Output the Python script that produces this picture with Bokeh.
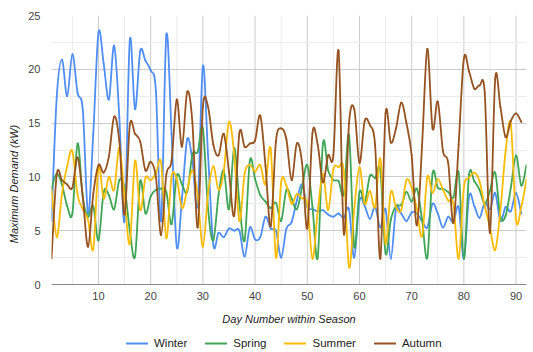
from bokeh.plotting import figure
from bokeh.models import Range1d, FixedTicker, Legend, LegendItem, ColumnDataSource
from bokeh.embed import file_html
from bokeh.resources import INLINE

# ---- data ----
winter = [5.9, 17.4, 20.9, 17.5, 21.4, 17.8, 16.2, 6.6, 14.0, 23.4,
          20.5, 17.2, 22.2, 15.5, 5.9, 22.7, 16.3, 21.7, 20.8, 19.9,
          18.0, 5.9, 23.2, 14.0, 3.5, 8.0, 13.5, 11.5, 7.4, 20.3,
          12.0, 3.7, 4.8, 4.4, 5.2, 5.0, 5.0, 2.6, 5.3, 4.2,
          4.4, 6.3, 5.2, 5.0, 2.5, 5.2, 5.8, 7.8, 9.3, 7.2,
          7.0, 6.8, 6.9, 6.5, 6.3, 6.6, 6.2, 7.0, 2.5, 7.8,
          7.3, 6.1, 7.2, 5.3, 7.0, 2.4, 7.0, 6.6, 5.9, 6.7,
          6.6, 5.9, 5.3, 7.5, 6.6, 5.3, 6.3, 5.8, 7.2, 2.4,
          8.2, 7.3, 6.2, 7.6, 7.0, 8.5, 5.9, 7.2, 6.8, 8.5, 6.6]
spring = [8.9, 10.3, 9.3, 7.3, 6.6, 13.1, 8.1, 6.3, 7.3, 4.1,
          8.6, 8.3, 7.0, 9.7, 9.0, 5.0, 2.6, 9.6, 6.6, 8.2,
          8.8, 8.9, 8.6, 5.6, 10.1, 9.3, 8.6, 12.1, 12.3, 14.5,
          7.0, 4.1, 8.3, 10.6, 7.0, 12.7, 7.6, 4.1, 11.5, 9.8,
          8.3, 7.7, 7.1, 7.6, 5.9, 8.8, 8.0, 7.0, 9.0, 11.1,
          7.2, 2.5, 13.1, 10.6, 9.7, 9.6, 8.4, 13.9, 3.5, 8.6,
          7.6, 10.1, 9.9, 10.6, 2.9, 6.0, 7.3, 7.4, 8.6, 7.7,
          8.9, 6.0, 2.5, 10.3, 9.0, 8.9, 8.6, 8.1, 10.4, 2.4,
          10.2, 9.6, 8.8, 7.5, 8.7, 10.4, 6.3, 6.4, 9.0, 12.0, 9.2, 11.1]
summer = [8.9, 4.4, 8.4, 11.0, 12.4, 8.3, 7.0, 6.0, 3.3, 10.9,
          8.0, 10.0, 8.8, 12.7, 8.1, 3.8, 11.5, 6.9, 9.9, 9.7,
          10.3, 11.3, 4.3, 10.0, 9.8, 7.1, 8.8, 10.6, 8.3, 3.5,
          8.5, 11.0, 8.8, 10.5, 15.1, 12.1, 5.9, 10.3, 11.1, 10.5,
          11.1, 9.3, 12.6, 2.5, 9.5, 9.2, 7.5, 8.4, 8.0, 7.5,
          2.4, 6.8, 10.3, 6.9, 10.7, 10.9, 10.5, 1.6, 7.0, 10.9,
          7.5, 8.7, 7.2, 11.7, 3.8, 8.6, 7.2, 6.9, 9.7, 9.0,
          7.0, 4.5, 10.0, 8.5, 9.8, 8.8, 7.8, 7.5, 2.4, 9.0,
          9.9, 10.4, 9.6, 7.3, 5.3, 3.2, 6.9, 12.4, 14.9, 6.0, 7.2, 9.8]
autumn = [2.4, 10.2, 9.7, 9.3, 9.0, 11.8, 8.1, 3.5, 8.4, 11.1,
          10.4, 11.9, 15.6, 13.3, 6.5, 14.8, 14.0, 13.3, 10.6, 11.4,
          10.0, 4.6, 10.2, 11.5, 17.2, 12.8, 17.9, 15.0, 5.3, 16.5,
          16.5, 13.0, 12.0, 14.0, 10.5, 6.4, 14.1, 12.8, 13.1, 13.4,
          15.7, 11.0, 5.4, 13.3, 14.5, 13.5, 9.7, 13.1, 11.3, 5.2,
          14.1, 13.0, 9.5, 12.0, 12.0, 21.7, 4.7, 15.0, 16.3, 11.3,
          15.2, 14.8, 12.9, 2.4, 15.9, 13.2, 14.5, 16.9, 15.0, 12.0,
          5.5, 13.0, 21.9, 14.5, 17.0, 12.4, 11.3, 5.7, 13.0, 21.0,
          19.8, 18.2, 18.5, 17.8, 4.8, 19.1, 16.5, 13.7, 15.2, 15.9, 15.1]

series_names = ["Winter", "Spring", "Summer", "Autumn"]
series_colors = ["#4f8ef2", "#3ea655", "#fbbc05", "#96521f"]
x_ticks = [10, 20, 30, 40, 50, 60, 70, 80, 90]
x_minor = [5, 15, 25, 35, 45, 55, 65, 75, 85]
y_ticks = [0, 5, 10, 15, 20, 25]
y_minor = [2.5, 7.5, 12.5, 17.5, 22.5]
x_days = (1, 92)


def bezier_source(values):
    """Catmull-Rom smoothed segments between consecutive day values."""
    xs = list(range(1, len(values) + 1))
    n = len(values)
    d = dict(x0=[], y0=[], x1=[], y1=[], cx0=[], cy0=[], cx1=[], cy1=[])
    for i in range(n - 1):
        im = max(i - 1, 0)
        ip = min(i + 2, n - 1)
        d["x0"].append(xs[i]); d["y0"].append(values[i])
        d["x1"].append(xs[i + 1]); d["y1"].append(values[i + 1])
        d["cx0"].append(xs[i] + (xs[i + 1] - xs[im]) / 6.0)
        d["cy0"].append(values[i] + (values[i + 1] - values[im]) / 6.0)
        d["cx1"].append(xs[i + 1] - (xs[ip] - xs[i]) / 6.0)
        d["cy1"].append(values[i + 1] - (values[ip] - values[i]) / 6.0)
    return ColumnDataSource(d)


# layout: plot area 269 px tall for 0..25; the frame extends 68 px lower to hold
# the axis texts and the legend (so the legend is not clipped)
H_PLOT, H_BELOW = 269, 68
y_low = -y_ticks[-1] * H_BELOW / H_PLOT

p = figure(width=533, height=352, output_backend="svg", toolbar_location=None,
           x_range=Range1d(*x_days), y_range=Range1d(y_low, y_ticks[-1]),
           min_border_left=51, min_border_right=7, min_border_top=15,
           min_border_bottom=0)
p.outline_line_color = None
p.background_fill_color = "white"
p.border_fill_color = "white"

p.xaxis.ticker = FixedTicker(ticks=x_ticks)
p.yaxis.ticker = FixedTicker(ticks=y_ticks, minor_ticks=y_minor)
p.xaxis.fixed_location = 0
p.yaxis.bounds = (y_ticks[0], y_ticks[-1])

p.xgrid.visible = False
p.ygrid.grid_line_color = "#cccccc"
p.ygrid.minor_grid_line_color = "#ebebeb"

# vertical grid lines limited to the 0..25 plot area
p.segment(x0=x_minor, x1=x_minor, y0=[y_ticks[0]] * len(x_minor), y1=[y_ticks[-1]] * len(x_minor),
          line_color="#ebebeb", line_width=1, level="underlay")
p.segment(x0=x_ticks, x1=x_ticks, y0=[y_ticks[0]] * len(x_ticks), y1=[y_ticks[-1]] * len(x_ticks),
          line_color="#cccccc", line_width=1, level="underlay")

for ax in (p.xaxis, p.yaxis):
    ax.major_tick_line_color = None
    ax.minor_tick_line_color = None
    ax.major_tick_out = 0
    ax.minor_tick_out = 0
    ax.major_tick_in = 0
    ax.minor_tick_in = 0
    ax.major_label_text_font = "Liberation Sans"
    ax.major_label_text_font_size = "11px"
    ax.major_label_text_color = "#444444"
    ax.axis_label_text_font = "Liberation Sans"
    ax.axis_label_text_font_style = "italic"
    ax.axis_label_text_font_size = "11px"
    ax.axis_label_text_color = "#222222"

p.xaxis.axis_line_color = "#888888"
p.xaxis.axis_line_width = 1
p.yaxis.axis_line_color = None
p.xaxis.axis_label = "Day Number within Season"
p.yaxis.axis_label = "Maximum Demand (kW)"
p.xaxis.major_label_standoff = 7
p.xaxis.axis_label_standoff = 10
p.yaxis.major_label_standoff = 11
p.yaxis.axis_label_standoff = 5

items = []
for name, vals, col in zip(series_names, [winter, spring, summer, autumn], series_colors):
    src = bezier_source(vals)
    r = p.bezier(x0="x0", y0="y0", x1="x1", y1="y1", cx0="cx0", cy0="cy0",
                 cx1="cx1", cy1="cy1", source=src, line_color=col, line_width=1.8,
                 line_cap="round")
    items.append(LegendItem(label=name, renderers=[r]))

legend = Legend(items=items, orientation="horizontal", location=(75, 2),
                border_line_color=None, background_fill_alpha=0,
                label_text_font="Liberation Sans", label_text_font_size="11.5px",
                label_text_color="#222222", glyph_width=22, glyph_height=14,
                label_height=14, label_standoff=6, spacing=18, padding=0, margin=0)
p.add_layout(legend, "center")

open("out.html", "w").write(file_html(p, INLINE))
